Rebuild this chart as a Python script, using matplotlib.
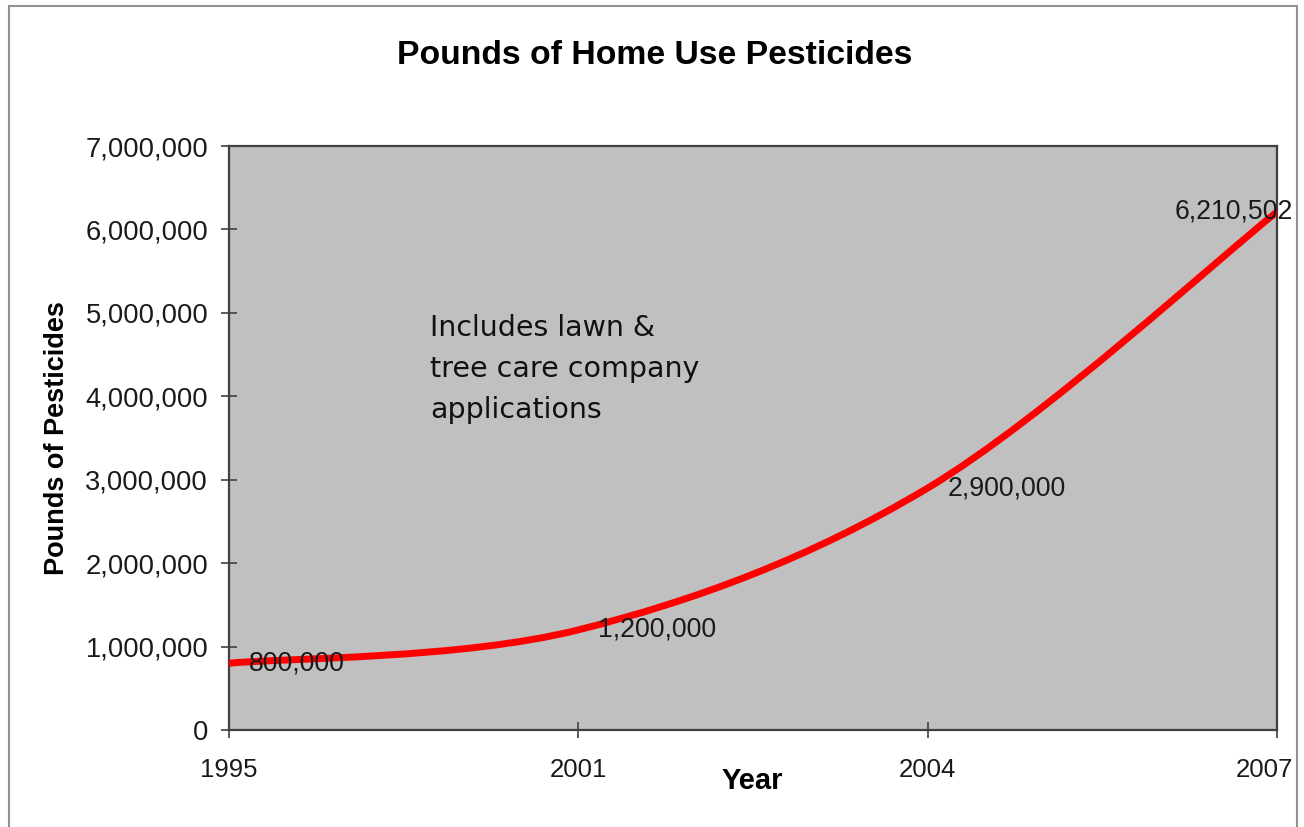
import matplotlib
matplotlib.use('Agg')
import numpy as np
from matplotlib import pyplot as plt
from matplotlib.path import Path
from matplotlib.patches import PathPatch, Rectangle
from matplotlib.ticker import FuncFormatter, MultipleLocator
import matplotlib.transforms as mtransforms

years = ['1995', '2001', '2004', '2007']
pounds = [800000, 1200000, 2900000, 6210502]
point_labels = ['800,000', '1,200,000', '2,900,000', '6,210,502']
note = 'Includes lawn &\ntree care company\napplications'

plt.rcParams['font.family'] = ['Liberation Sans', 'DejaVu Sans']

fig = plt.figure(figsize=(13.04, 8.27), dpi=100)
ax = fig.add_axes([229 / 1304, 97 / 827, 1048 / 1304, 584 / 827])
ax.set_facecolor('#c0c0c0')

x = np.arange(len(years), dtype=float)
y = np.array(pounds, dtype=float)

# excel style smoothed line: bezier segments, control points from neighbours
pts = np.column_stack([x, y])
padded = np.vstack([pts[0], pts, pts[-1]])
verts = [pts[0]]
codes = [Path.MOVETO]
for i in range(len(pts) - 1):
    p_prev, p0, p1, p_next = padded[i], padded[i + 1], padded[i + 2], padded[i + 3]
    c1 = p0 + (p1 - p_prev) / 6
    c2 = p1 - (p_next - p0) / 6
    verts += [c1, c2, p1]
    codes += [Path.CURVE4] * 3
ax.add_patch(PathPatch(Path(verts, codes), fill=False, edgecolor='#ff0000',
                       lw=5, capstyle='round', joinstyle='round', zorder=3))

ax.set_xlim(0, 3)
ax.set_ylim(0, 7000000)
ax.yaxis.set_major_locator(MultipleLocator(1000000))
ax.yaxis.set_major_formatter(FuncFormatter(lambda v, p: '{:,.0f}'.format(v)))
ax.set_xticks(x)
ax.set_xticklabels(years)

for s in ax.spines.values():
    s.set_color('#404040')
    s.set_linewidth(1.6)
ax.tick_params(axis='both', direction='inout', length=12, width=1.2,
               color='#404040', labelcolor='#1a1a1a')
ax.tick_params(axis='y', pad=9, labelsize=19.7)
ax.tick_params(axis='x', pad=14, labelsize=18.5)

# last year label shifted left like the original
lab = ax.get_xticklabels()[-1]
lab.set_transform(lab.get_transform() + mtransforms.ScaledTranslation(-13 / 100, 0, fig.dpi_scale_trans))

for i, t in enumerate(point_labels):
    if i == len(point_labels) - 1:
        ax.annotate(t, (x[i], y[i]), xytext=(16, 0), textcoords='offset pixels',
                    ha='right', va='center', fontsize=19.2, color='#1a1a1a', zorder=4)
    else:
        ax.annotate(t, (x[i], y[i]), xytext=(20, 0), textcoords='offset pixels',
                    ha='left', va='center', fontsize=19.2, color='#1a1a1a', zorder=4)

ax.text(201 / 1048, 1 - 168 / 584, note, transform=ax.transAxes, ha='left', va='top',
        fontsize=20.5, family='DejaVu Sans', linespacing=1.6, color='#111111')

ax.set_ylabel('Pounds of Pesticides', fontsize=19.5, fontweight='bold')
ax.yaxis.set_label_coords(-159 / 1048, 0.5)
ax.set_xlabel('Year', fontsize=21, fontweight='bold')
ax.xaxis.set_label_coords(523 / 1048, -37 / 584)

fig.text(655 / 1304, 1 - 55 / 827, 'Pounds of Home Use Pesticides', ha='center', va='center',
         fontsize=24.3, fontweight='bold')

fig.add_artist(Rectangle((9 / 1304, -0.01), 1288 / 1304, 1.01 - 6 / 827, transform=fig.transFigure,
                         fill=False, edgecolor='#909090', lw=1.5))

fig.savefig('out.png', dpi=100)
